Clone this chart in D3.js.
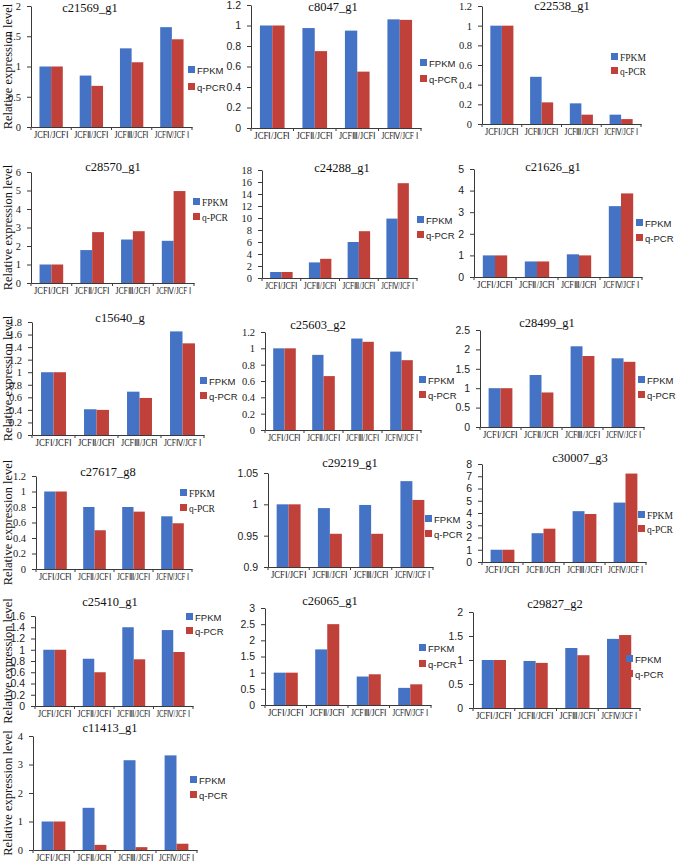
<!DOCTYPE html>
<html><head><meta charset="utf-8">
<script src="https://cdn.jsdelivr.net/npm/d3@7"></script>
<style>body{margin:0;background:#fff}svg{display:block}</style>
</head><body>
<svg id="c" width="685" height="866"></svg>
<script>
// ---------- DATA ----------
const categories = ["JCFⅠ/JCFⅠ", "JCFⅡ/JCFⅠ", "JCFⅢ/JCFⅠ", "JCFⅣ/JCF Ⅰ"];
const seriesNames = ["FPKM", "q-PCR"];
const genes = ["c21569_g1","c8047_g1","c22538_g1","c28570_g1","c24288_g1","c21626_g1",
               "c15640_g","c25603_g2","c28499_g1","c27617_g8","c29219_g1","c30007_g3",
               "c25410_g1","c26065_g1","c29827_g2","c11413_g1"];
const fpkmValues = [
  [1, 0.85, 1.30, 1.65],
  [1, 0.975, 0.95, 1.06],
  [1, 0.48, 0.21, 0.095],
  [1, 1.78, 2.35, 2.28],
  [1, 2.6, 6.0, 9.9],
  [1, 0.72, 1.05, 3.28],
  [1, 0.41, 0.69, 1.65],
  [1, 0.92, 1.12, 0.96],
  [1, 1.34, 2.08, 1.77],
  [1, 0.80, 0.80, 0.68],
  [1, 0.994, 0.999, 1.037],
  [1, 2.35, 4.15, 4.85],
  [1, 0.84, 1.40, 1.35],
  [1, 1.72, 0.88, 0.53],
  [1, 0.98, 1.25, 1.44],
  [1, 1.48, 3.15, 3.32]
];
const qpcrValues = [
  [1, 0.68, 1.07, 1.45],
  [1, 0.75, 0.55, 1.055],
  [1, 0.22, 0.095, 0.05],
  [1, 2.75, 2.80, 4.97],
  [1, 3.2, 7.8, 15.8],
  [1, 0.72, 1.0, 3.87],
  [1, 0.40, 0.59, 1.46],
  [1, 0.66, 1.08, 0.855],
  [1, 0.89, 1.83, 1.68],
  [1, 0.50, 0.74, 0.59],
  [1, 0.953, 0.953, 1.007],
  [1, 2.72, 3.92, 7.22],
  [1, 0.60, 0.83, 0.96],
  [1, 2.50, 0.95, 0.64],
  [1, 0.94, 1.10, 1.52],
  [1, 0.18, 0.10, 0.22]
];
const yMin  = [0,0,0,0,0,0,0,0,0,0,0.9,0,0,0,0,0];
const yMax  = [2,1.2,1.2,6,18,5,1.8,1.2,2.5,1.2,1.05,8,1.6,3,2,4];
const yStep = [0.5,0.2,0.2,1,2,1,0.2,0.2,0.5,0.2,0.05,1,0.2,0.5,0.5,1];
const yLabelText = "Relative expression level";

// ---------- LAYOUT / STYLE ----------
const serif = "'Liberation Serif','Times New Roman',serif";
const sans = "'Liberation Sans',Arial,sans-serif";
const colors = ["#4472C4", "#C0403A"];
const labelWidths = [36, 39, 40, 40];
const layout = [
  {x0:31, x1:192, top:6,   base:127, tx:90,  ty:12,  lx:188, ly:[70,87],   tf:serif, lf:sans,  yl:true},
  {x0:251,x1:421, top:5,   base:128, tx:333, ty:11,  lx:420, ly:[63,79],   tf:sans,  lf:sans},
  {x0:482,x1:641, top:6,   base:124, tx:562, ty:10,  lx:611, ly:[57,71],   tf:serif, lf:serif},
  {x0:31, x1:194, top:172, base:283, tx:113, ty:171, lx:193, ly:[202,217], tf:serif, lf:serif, yl:true},
  {x0:262,x1:417, top:170, base:278, tx:342, ty:172, lx:417, ly:[220,235], tf:serif, lf:sans},
  {x0:474,x1:642, top:169, base:277, tx:553, ty:171, lx:636, ly:[223,238], tf:sans,  lf:sans},
  {x0:32, x1:204, top:322, base:435, tx:120, ty:322, lx:200, ly:[381,396], tf:serif, lf:sans,  yl:true},
  {x0:265,x1:421, top:332, base:430, tx:318, ty:329, lx:419, ly:[380,395], tf:serif, lf:sans},
  {x0:480,x1:644, top:330, base:427, tx:547, ty:327, lx:638, ly:[380,395], tf:sans,  lf:sans},
  {x0:36, x1:192, top:476, base:569, tx:108, ty:476, lx:180, ly:[493,508], tf:serif, lf:serif, yl:true},
  {x0:268,x1:433, top:473, base:567, tx:350, ty:467, lx:425, ly:[519,534], tf:sans,  lf:sans},
  {x0:482,x1:646, top:464, base:562, tx:580, ty:462, lx:638, ly:[515,529], tf:sans,  lf:serif},
  {x0:35, x1:193, top:616, base:706, tx:110, ty:606, lx:186, ly:[617,631], tf:sans,  lf:sans,  yl:true},
  {x0:265,x1:431, top:608, base:705, tx:330, ty:605, lx:419, ly:[648,664], tf:sans,  lf:sans},
  {x0:473,x1:640, top:612, base:708, tx:555, ty:608, lx:626, ly:[659,674], tf:sans,  lf:sans},
  {x0:33, x1:197, top:736, base:850, tx:110, ty:732, lx:190, ly:[780,795], tf:serif, lf:sans,  yl:true}
];
const axisColor = "#3a3a3a";

// ---------- DRAW ----------
const svg = d3.select("#c");
const fmt = d3.format("~g");

genes.forEach((gene, i) => {
  const L = layout[i];
  const g = svg.append("g");
  const x = d3.scaleBand().domain(categories).range([L.x0, L.x1]).paddingInner(0.42).paddingOuter(0.21);
  const xs = d3.scaleBand().domain(seriesNames).range([0, x.bandwidth()]);
  const y = d3.scaleLinear().domain([yMin[i], yMax[i]]).range([L.base, L.top]);

  const rows = categories.map((c, j) => ({cat: c, vals: [fpkmValues[i][j], qpcrValues[i][j]]}));
  g.selectAll("g.grp").data(rows).join("g").attr("class", "grp")
    .selectAll("rect").data(d => d.vals.map((v, k) => ({cat: d.cat, k, v})))
    .join("rect")
    .attr("x", d => x(d.cat) + xs(seriesNames[d.k]))
    .attr("y", d => y(d.v))
    .attr("width", xs.bandwidth())
    .attr("height", d => y(yMin[i]) - y(d.v))
    .attr("fill", d => colors[d.k]);

  // y axis
  const ticks = d3.range(yMin[i], yMax[i] + yStep[i] / 2, yStep[i]);
  const ya = g.append("g").attr("transform", `translate(${L.x0},0)`)
    .call(d3.axisLeft(y).tickValues(ticks).tickFormat(fmt).tickSize(4).tickSizeOuter(0).tickPadding(6));
  ya.select(".domain").attr("stroke", axisColor);
  ya.selectAll(".tick line").attr("stroke", axisColor);
  ya.selectAll("text").attr("font-family", L.tf).attr("font-size", 10.5).attr("fill", "#222");

  // x axis
  const step = x.step();
  const xa = g.append("g").attr("transform", `translate(0,${L.base})`)
    .call(d3.axisBottom(x).tickSize(0).tickSizeOuter(0).tickPadding(4));
  xa.select(".domain").attr("stroke", axisColor);
  xa.selectAll("text").attr("font-family", serif).attr("font-size", 9.5).attr("fill", "#222")
    .attr("textLength", (d, j) => Math.min(labelWidths[j], step - 6)).attr("lengthAdjust", "spacingAndGlyphs");
  g.selectAll("line.sep").data(d3.range(categories.length + 1)).join("line")
    .attr("class", "sep")
    .attr("x1", k => L.x0 + k * step).attr("x2", k => L.x0 + k * step)
    .attr("y1", L.base).attr("y2", L.base + 3)
    .attr("stroke", axisColor);

  // title
  g.append("text").attr("x", L.tx).attr("y", L.ty).attr("text-anchor", "middle")
    .attr("font-family", serif).attr("font-size", 12.5).attr("fill", "#111").text(gene);

  // legend
  seriesNames.forEach((s, k) => {
    g.append("rect").attr("x", L.lx).attr("y", L.ly[k] - 4).attr("width", 7).attr("height", 7).attr("fill", colors[k]);
    g.append("text").attr("x", L.lx + 9).attr("y", L.ly[k] + 3.5)
      .attr("font-family", L.lf).attr("font-size", 9.5).attr("fill", "#222").text(s);
  });

  // y label
  if (L.yl) {
    const cy = (L.top + L.base) / 2;
    g.append("text").attr("transform", `translate(12,${cy}) rotate(-90)`)
      .attr("text-anchor", "middle").attr("font-family", serif).attr("font-size", 12.5)
      .attr("fill", "#111").text(yLabelText);
  }
});
</script>
</body></html>
